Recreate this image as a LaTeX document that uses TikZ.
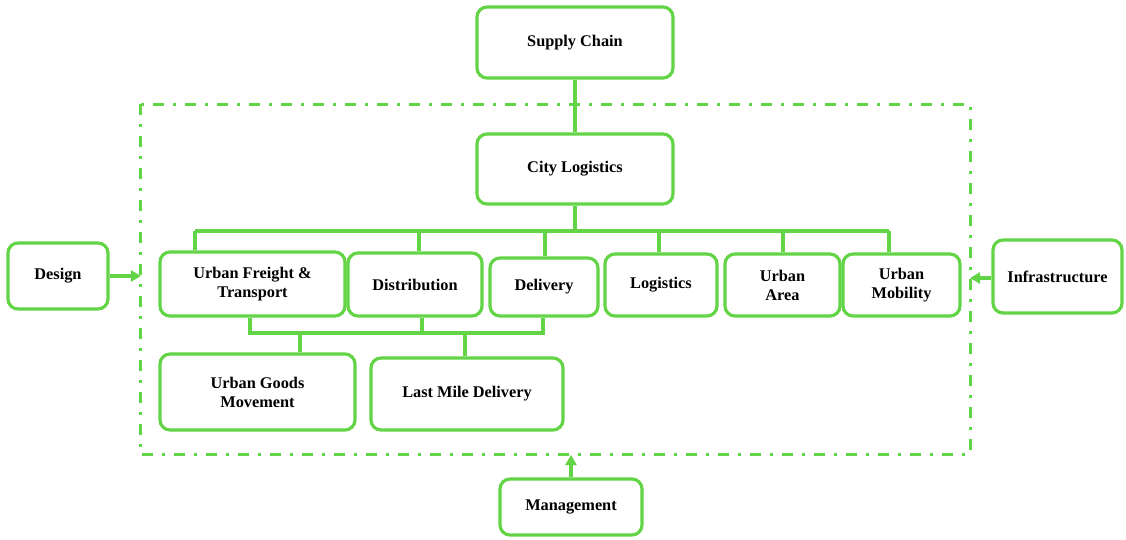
\documentclass[tikz,border=0pt]{standalone}
\usepackage{fontspec}
\setmainfont{Liberation Serif}
\usetikzlibrary{arrows.meta}
\definecolor{gline}{RGB}{98,212,70}
\tikzset{
  box/.style={draw=gline, line width=3.2pt, rounded corners=10pt, align=center,
    font=\fontsize{16.3}{19}\selectfont\bfseries, inner sep=2pt},
  conn/.style={draw=gline, line width=3.2pt},
  arr/.style={draw=gline, line width=3.2pt, -{Triangle[length=10pt,width=11pt]}, fill=gline},
  frame/.style={draw=gline, line width=3pt, dash pattern=on 11pt off 9pt on 3pt off 9pt}
}
\begin{document}
\begin{tikzpicture}[x=1pt,y=-1pt]
\useasboundingbox (0,0) rectangle (1126,539);
% boxes
\node[box, minimum width=196pt, minimum height=71pt] (supply) at (575,42.5) {Supply Chain};
\node[box, minimum width=196pt, minimum height=70pt] (city) at (575,169) {City Logistics};
\node[box, minimum width=100pt, minimum height=66pt] (design) at (58,276) {Design};
\node[box, minimum width=129pt, minimum height=73pt] (infra) at (1057.5,276.5) {Infrastructure};
\node[box, minimum width=142pt, minimum height=56pt] (mgmt) at (571,507) {Management};
\node[box, minimum width=185pt, minimum height=64pt] (ufreight) at (252.5,284) {Urban Freight \&\\Transport};
\node[box, minimum width=134pt, minimum height=63pt] (dist) at (415,284.5) {Distribution};
\node[box, minimum width=108pt, minimum height=58pt] (deliv) at (544,287) {Delivery};
\node[box, minimum width=112pt, minimum height=62pt] (logist) at (661,285) {Logistics};
\node[box, minimum width=115pt, minimum height=62pt] (uarea) at (782.5,285) {Urban\\Area};
\node[box, minimum width=117pt, minimum height=62pt] (umob) at (901.5,285) {Urban\\Mobility};
\node[box, minimum width=195pt, minimum height=76pt] (ugm) at (257.5,392) {Urban Goods\\Movement};
\node[box, minimum width=192pt, minimum height=72pt] (lastmile) at (467,394) {Last Mile Delivery};
% frame
\coordinate (fTL) at (140,104);
\coordinate (fBR) at (970,454);
\draw[frame] (fTL) rectangle (fBR);
% upper tree
\coordinate (b1) at (195,231);
\coordinate (b2) at (419,231);
\coordinate (b3) at (545,231);
\coordinate (b4) at (659,231);
\coordinate (b5) at (783,231);
\coordinate (b6) at (889,231);
\draw[conn] (supply) -- (city);
\draw[conn] (city) -- (city |- b1);
\draw[conn] (b1) -- (b6);
\draw[conn] (b1) -- (b1 |- ufreight.north);
\draw[conn] (b2) -- (b2 |- dist.north);
\draw[conn] (b3) -- (b3 |- deliv.north);
\draw[conn] (b4) -- (b4 |- logist.north);
\draw[conn] (b5) -- (b5 |- uarea.north);
\draw[conn] (b6) -- (b6 |- umob.north);
% lower tree
\coordinate (l1) at (250,333);
\coordinate (l2) at (422,333);
\coordinate (l3) at (543,333);
\coordinate (l4) at (300,333);
\coordinate (l5) at (465,333);
\draw[conn] (l1 |- ufreight.south) -- (l1) -- (l3) -- (l3 |- deliv.south);
\draw[conn] (l2 |- dist.south) -- (l2);
\draw[conn] (l4) -- (l4 |- ugm.north);
\draw[conn] (l5) -- (l5 |- lastmile.north);
% arrows to frame
\coordinate (aL) at (141,276);
\coordinate (aR) at (970,278);
\coordinate (aB) at (571,455);
\draw[arr] (design.east) -- (aL);
\draw[arr] (infra.west |- aR) -- (aR);
\draw[arr] (mgmt.north) -- (aB);
\end{tikzpicture}
\end{document}
